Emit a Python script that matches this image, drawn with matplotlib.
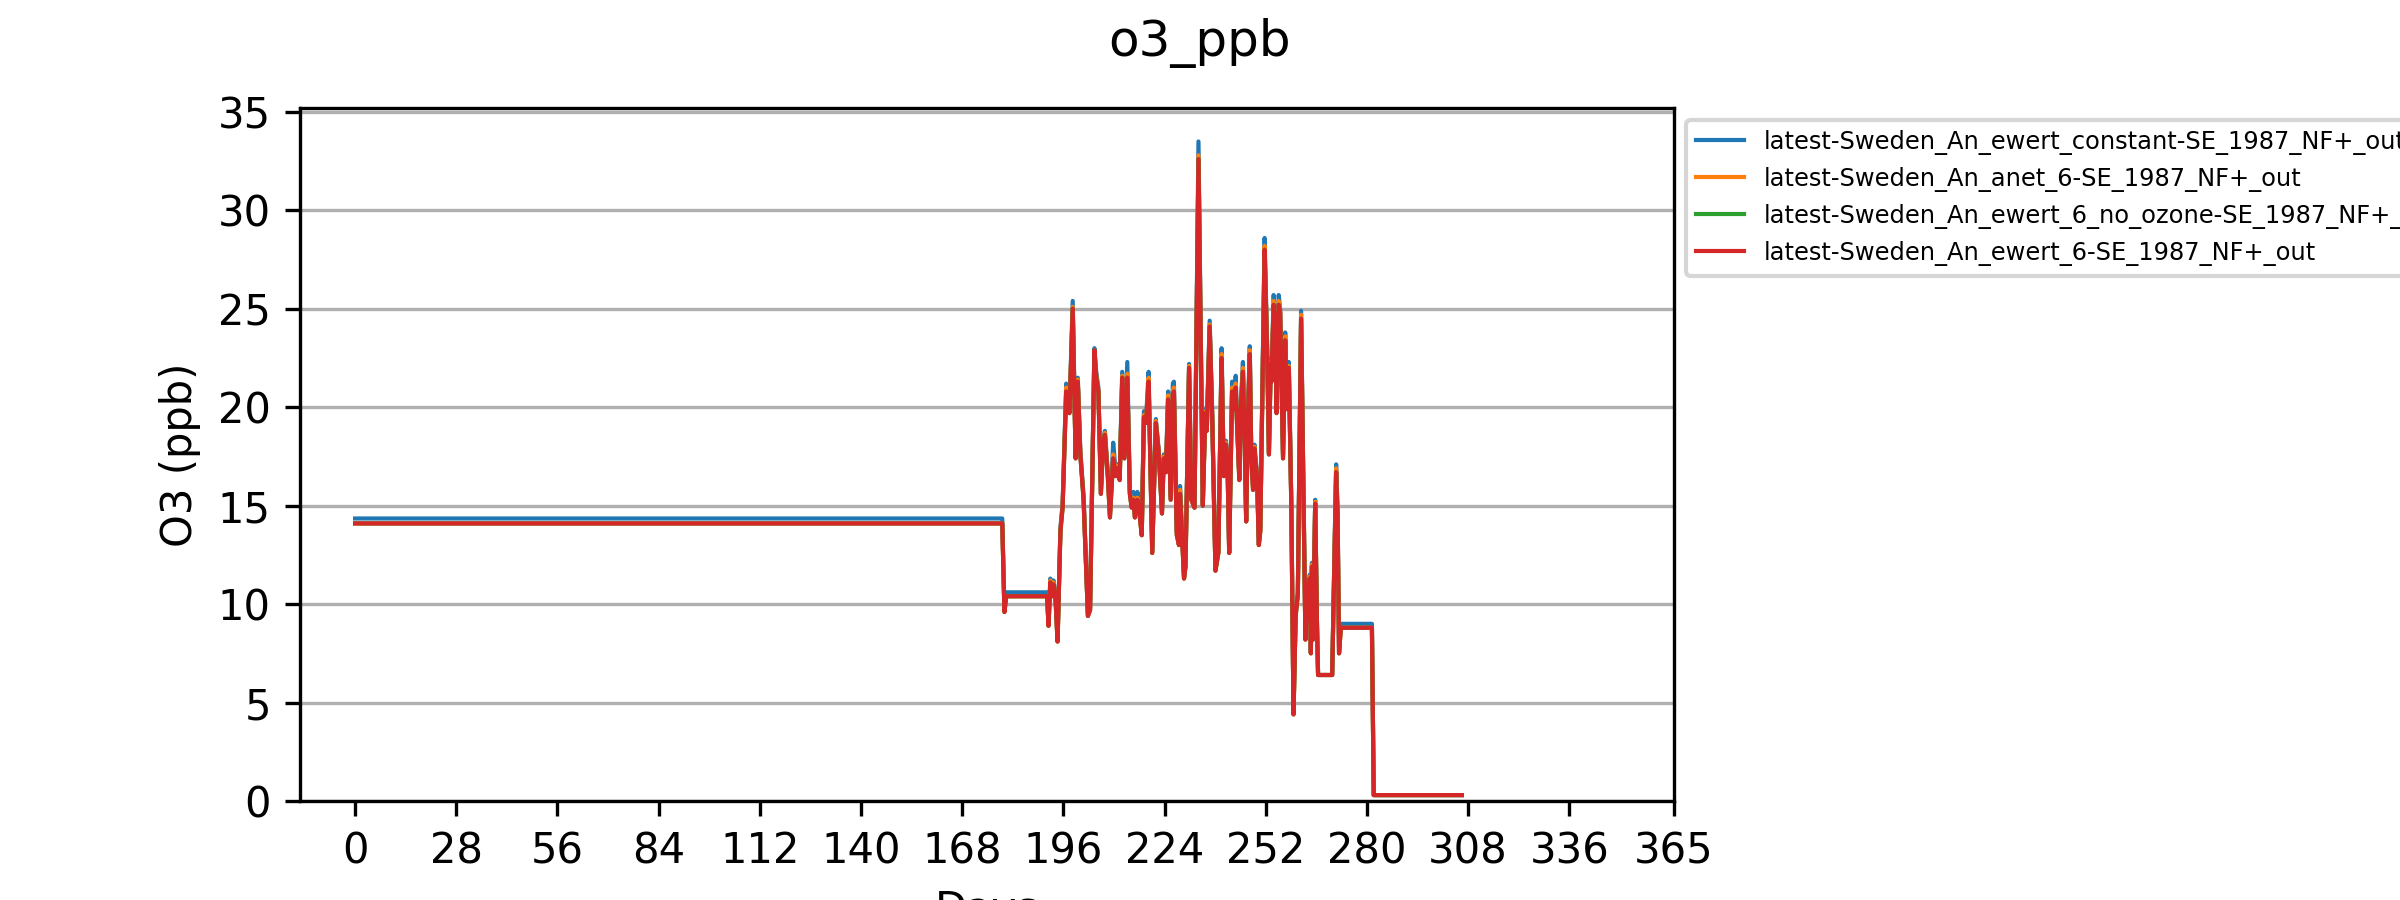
import matplotlib
matplotlib.use("Agg")
import matplotlib.pyplot as plt

title = "o3_ppb"
x_label = "Days"
y_label = "O3 (ppb)"
x_ticks = [0, 28, 56, 84, 112, 140, 168, 196, 224, 252, 280, 308, 336, 365]

series_names = [
    "latest-Sweden_An_ewert_constant-SE_1987_NF+_out",
    "latest-Sweden_An_anet_6-SE_1987_NF+_out",
    "latest-Sweden_An_ewert_6_no_ozone-SE_1987_NF+_out",
    "latest-Sweden_An_ewert_6-SE_1987_NF+_out",
]

days = [
    0, 179.1, 179.7, 180.2, 191.5, 191.9, 192.4, 192.9, 193.3, 193.8,
    194.4, 195.2, 195.8, 196.8, 197.7, 198.6, 199.4, 200.0, 200.7, 201.6,
    202.8, 203.4, 204.6, 205.1, 205.7, 206.4, 207.0, 207.5, 208.3, 208.9,
    209.8, 210.5, 211.0, 211.6, 212.3, 212.9, 213.7, 214.4, 214.9, 215.4,
    215.8, 216.5, 216.9, 217.7, 218.3, 218.9, 219.6, 220.6, 221.6, 222.3,
    222.8, 223.3, 223.8, 224.4, 225.0, 225.7, 226.3, 226.6, 227.4, 228.0,
    228.3, 229.4, 229.8, 230.8, 231.4, 232.3, 233.4, 234.6, 235.3, 235.7,
    236.5, 237.2, 238.1, 238.9, 239.8, 240.4, 241.0, 241.4, 241.9, 242.7,
    243.2, 243.7, 244.1, 244.7, 245.1, 245.7, 246.2, 246.6, 247.1, 247.6,
    248.0, 248.5, 248.9, 249.2, 249.6, 250.1, 250.5, 251.7, 252.4, 252.9,
    253.4, 253.6, 254.2, 254.7, 255.0, 255.6, 256.0, 256.8, 257.4, 257.9,
    258.4, 259.1, 259.7, 260.3, 260.9, 261.8, 263.0, 263.5, 263.9, 264.2,
    264.5, 264.8, 265.1, 265.7, 266.2, 266.5, 270.4, 271.5, 271.9, 272.3,
    272.8, 281.4, 281.9, 306.3,
]

o3_ewert_constant = [
    14.35, 14.35, 9.7, 10.6, 10.6, 9.0, 11.3, 10.6, 11.2, 10.5,
    8.2, 13.9, 15.1, 21.2, 19.9, 25.4, 17.6, 21.5, 17.8, 15.5,
    9.5, 9.8, 23.0, 21.8, 21.0, 15.8, 18.3, 18.8, 16.7, 14.6,
    18.2, 16.7, 17.1, 16.5, 21.8, 17.6, 22.3, 15.8, 15.1, 15.7,
    14.6, 15.7, 15.1, 13.6, 19.8, 19.4, 21.8, 12.7, 19.4, 18.0,
    16.5, 14.8, 17.6, 16.9, 20.8, 15.5, 21.2, 21.3, 13.7, 13.1,
    16.0, 11.4, 12.0, 22.2, 15.5, 15.0, 33.5, 15.2, 19.9, 19.0,
    24.4, 19.7, 11.8, 12.7, 23.0, 16.7, 18.3, 17.6, 12.7, 21.3,
    20.1, 21.6, 19.2, 16.5, 20.1, 22.3, 18.3, 14.3, 19.7, 23.1,
    17.8, 16.0, 18.1, 17.4, 16.7, 13.1, 13.8, 28.6, 23.1, 17.8,
    22.5, 21.5, 25.7, 24.4, 19.9, 25.7, 25.0, 17.6, 23.8, 20.1,
    22.3, 15.1, 4.5, 9.6, 10.6, 24.9, 8.3, 11.2, 10.7, 11.5,
    7.6, 12.1, 8.3, 15.3, 9.0, 6.4, 6.4, 17.1, 14.7, 7.6,
    9.0, 9.0, 0.3, 0.3,
]

o3_anet_6 = [
    14.1, 14.1, 9.6, 10.4, 10.4, 8.9, 11.2, 10.4, 11.1, 10.4,
    8.1, 13.8, 15.0, 21.0, 19.8, 25.1, 17.5, 21.4, 17.7, 15.4,
    9.4, 9.7, 22.9, 21.6, 20.9, 15.7, 18.2, 18.7, 16.6, 14.5,
    17.6, 16.6, 17.0, 16.4, 21.6, 17.5, 21.7, 15.7, 15.0, 15.4,
    14.5, 15.4, 15.0, 13.5, 19.6, 19.3, 21.5, 12.6, 19.3, 17.9,
    16.4, 14.7, 17.5, 16.8, 20.6, 15.4, 20.8, 21.0, 13.6, 13.0,
    15.8, 11.3, 11.9, 22.1, 15.4, 14.9, 32.8, 15.1, 19.8, 18.9,
    24.2, 19.6, 11.7, 12.6, 22.7, 16.6, 18.2, 17.5, 12.6, 21.0,
    20.0, 21.2, 19.1, 16.4, 20.0, 22.0, 18.2, 14.2, 19.6, 22.9,
    17.7, 15.9, 18.0, 17.3, 16.6, 13.0, 13.7, 28.2, 23.0, 17.7,
    22.3, 21.4, 25.4, 24.2, 19.8, 25.4, 24.9, 17.5, 23.6, 20.0,
    22.1, 15.0, 4.4, 9.5, 10.5, 24.7, 8.2, 11.1, 10.6, 11.4,
    7.5, 12.0, 8.2, 15.2, 8.9, 6.4, 6.4, 16.9, 14.6, 7.5,
    8.8, 8.8, 0.3, 0.3,
]

o3_ewert_6_no_ozone = [
    14.1, 14.1, 9.6, 10.4, 10.4, 8.9, 11.1, 10.4, 11.0, 10.4,
    8.1, 13.7, 14.9, 20.8, 19.7, 25.0, 17.4, 21.3, 17.6, 15.3,
    9.4, 9.7, 22.9, 21.5, 20.8, 15.6, 18.1, 18.6, 16.5, 14.4,
    17.4, 16.5, 16.9, 16.3, 21.5, 17.4, 21.5, 15.6, 14.9, 15.3,
    14.4, 15.3, 14.9, 13.5, 19.5, 19.2, 21.3, 12.6, 19.2, 17.9,
    16.3, 14.6, 17.4, 16.7, 20.4, 15.3, 20.6, 20.8, 13.5, 13.0,
    15.6, 11.3, 11.9, 22.0, 15.3, 14.9, 32.6, 15.0, 19.7, 18.8,
    24.1, 19.5, 11.7, 12.6, 22.5, 16.5, 18.1, 17.4, 12.6, 20.8,
    19.9, 21.0, 19.0, 16.3, 19.9, 21.8, 18.1, 14.2, 19.5, 22.7,
    17.6, 15.8, 17.9, 17.2, 16.5, 13.0, 13.7, 28.0, 22.9, 17.6,
    22.2, 21.3, 25.2, 24.1, 19.7, 25.2, 24.8, 17.4, 23.4, 19.9,
    22.0, 14.9, 4.4, 9.4, 10.5, 24.5, 8.2, 11.0, 10.5, 11.3,
    7.5, 11.9, 8.2, 15.1, 8.9, 6.4, 6.4, 16.7, 14.5, 7.5,
    8.8, 8.8, 0.3, 0.3,
]

o3_ewert_6 = [
    14.1, 14.1, 9.6, 10.4, 10.4, 8.9, 11.1, 10.4, 11.0, 10.4,
    8.1, 13.7, 14.9, 20.8, 19.7, 25.0, 17.4, 21.3, 17.6, 15.3,
    9.4, 9.7, 22.9, 21.5, 20.8, 15.6, 18.1, 18.6, 16.5, 14.4,
    17.4, 16.5, 16.9, 16.3, 21.5, 17.4, 21.5, 15.6, 14.9, 15.3,
    14.4, 15.3, 14.9, 13.5, 19.5, 19.2, 21.3, 12.6, 19.2, 17.9,
    16.3, 14.6, 17.4, 16.7, 20.4, 15.3, 20.6, 20.8, 13.5, 13.0,
    15.6, 11.3, 11.9, 22.0, 15.3, 14.9, 32.6, 15.0, 19.7, 18.8,
    24.1, 19.5, 11.7, 12.6, 22.5, 16.5, 18.1, 17.4, 12.6, 20.8,
    19.9, 21.0, 19.0, 16.3, 19.9, 21.8, 18.1, 14.2, 19.5, 22.7,
    17.6, 15.8, 17.9, 17.2, 16.5, 13.0, 13.7, 28.0, 22.9, 17.6,
    22.2, 21.3, 25.2, 24.1, 19.7, 25.2, 24.8, 17.4, 23.4, 19.9,
    22.0, 14.9, 4.4, 9.4, 10.5, 24.5, 8.2, 11.0, 10.5, 11.3,
    7.5, 11.9, 8.2, 15.1, 8.9, 6.4, 6.4, 16.7, 14.5, 7.5,
    8.8, 8.8, 0.3, 0.3,
]

series_values = [o3_ewert_constant, o3_anet_6, o3_ewert_6_no_ozone, o3_ewert_6]

fig = plt.figure(figsize=(8, 3), dpi=300)
ax = fig.add_axes([0.125, 0.11, 0.5725, 0.77])

for name, vals in zip(series_names, series_values):
    ax.plot(days, vals, linewidth=1.0, label=name)

ax.set_xlim(-15.25, 365)
ax.set_ylim(0, 35.2)
ax.set_xticks(x_ticks)
ax.grid(axis="y")
ax.set_xlabel(x_label)
ax.set_ylabel(y_label)
fig.suptitle(title)
ax.legend(loc="upper left", bbox_to_anchor=(1.0, 1.0), fontsize="xx-small")

fig.savefig("out.png", dpi=300)
